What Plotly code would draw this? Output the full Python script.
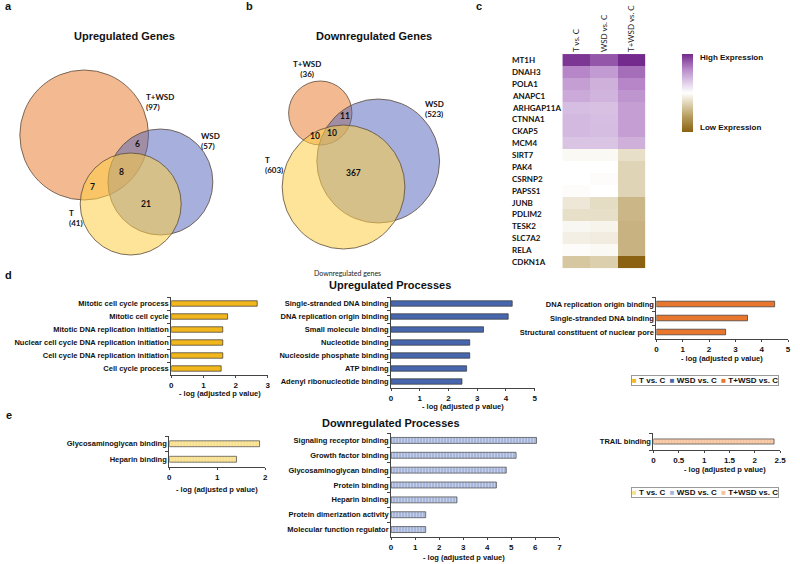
import plotly.graph_objects as go

W, H = 800, 564
def px(x): return x / W
def py(y): return 1 - y / H

# ---------------- data ----------------
# Venn a (upregulated genes)
venn_a_names = ["T+WSD", "WSD", "T"]
venn_a_totals = [97, 57, 41]
venn_a_counts = [6, 8, 7, 21]
# Venn b (downregulated genes)
venn_b_names = ["T+WSD", "WSD", "T"]
venn_b_totals = [36, 523, 603]
venn_b_counts = [11, 10, 10, 367]

# heatmap
heat_cols = ["T vs. C", "WSD vs. C", "T+WSD vs. C"]
heat_genes = ["MT1H", "DNAH3", "POLA1", "ANAPC1", "ARHGAP11A", "CTNNA1", "CKAP5", "MCM4",
              "SIRT7", "PAK4", "CSRNP2", "PAPSS1", "JUNB", "PDLIM2", "TESK2", "SLC7A2",
              "RELA", "CDKN1A"]
heat_t = [0.95, 0.62, 0.50, 0.45, 0.35, 0.38, 0.38, 0.32, -0.04, 0.0, 0.0, -0.02,
          -0.15, -0.20, -0.05, -0.10, -0.02, -0.35]
heat_wsd = [0.82, 0.52, 0.42, 0.40, 0.34, 0.35, 0.36, 0.32, -0.04, 0.0, -0.02, 0.0,
            -0.22, -0.20, -0.07, -0.12, -0.04, -0.30]
heat_twsd = [1.0, 0.72, 0.62, 0.55, 0.50, 0.50, 0.50, 0.42, -0.20, -0.27, -0.27, -0.27,
             -0.45, -0.45, -0.47, -0.47, -0.47, -1.0]

# upregulated processes
up_t_terms = ["Mitotic cell cycle process", "Mitotic cell cycle", "Mitotic DNA replication initiation",
              "Nuclear cell cycle DNA replication initiation", "Cell cycle DNA replication initiation",
              "Cell cycle process"]
up_t_vals = [2.67, 1.75, 1.6, 1.6, 1.6, 1.55]
up_wsd_terms = ["Single-stranded DNA binding", "DNA replication origin binding", "Small molecule binding",
                "Nucleotide binding", "Nucleoside phosphate binding", "ATP binding",
                "Adenyl ribonucleotide binding"]
up_wsd_vals = [4.22, 4.08, 3.22, 2.74, 2.74, 2.63, 2.47]
up_twsd_terms = ["DNA replication origin binding", "Single-stranded DNA binding",
                 "Structural constituent of nuclear pore"]
up_twsd_vals = [4.49, 3.46, 2.63]

# downregulated processes
dn_t_terms = ["Glycosaminoglycan binding", "Heparin binding"]
dn_t_vals = [1.88, 1.40]
dn_wsd_terms = ["Signaling receptor binding", "Growth factor binding", "Glycosaminoglycan binding",
                "Protein binding", "Heparin binding", "Protein dimerization activity",
                "Molecular function regulator"]
dn_wsd_vals = [6.05, 5.2, 4.79, 4.38, 2.74, 1.44, 1.44]
dn_twsd_terms = ["TRAIL binding"]
dn_twsd_vals = [2.38]

series_names = ["T vs. C", "WSD vs. C", "T+WSD vs. C"]

# ---------------- styles / geometry ----------------
ARIAL = "Liberation Sans, Arial, sans-serif"
CAL = "Lato, Open Sans, sans-serif"

venn_a_cx = [83, 160, 130]
venn_a_cy = [135, 182, 204]
venn_a_r = [65, 53, 51]
venn_b_cx = [321.5, 380, 345]
venn_b_cy = [113, 161, 187]
venn_b_r = [32, 62, 62]
venn_fill = ["rgba(233,130,55,0.55)", "rgba(80,98,185,0.5)", "rgba(253,205,70,0.55)"]

venn_a_name_pos = [(143, 102, "left"), (199, 140.5, "left"), (66, 218, "left")]
venn_a_count_pos = [(137, 144), (121, 172), (91, 187), (145, 204)]
venn_b_name_pos = [(308, 69, "center"), (425, 109, "left"), (264, 164.5, "left")]
venn_b_count_pos = [(346, 116), (316, 136), (333, 133), (355, 173)]

up_colors = ["#F2B71C", "#4766AE", "#E8762C"]
dn_colors = ["#F8DF8C", "#A7B6DA", "#F4C29C"]
dn_fg = ["#fdf3cf", "#e6ebf6", "#fbe5d3"]

fig = go.Figure()

layout = dict(
    width=W, height=H, margin=dict(l=0, r=0, t=0, b=0),
    paper_bgcolor="white", plot_bgcolor="rgba(0,0,0,0)", showlegend=False,
    xaxis=dict(domain=[0, px(450)], range=[0, 450], visible=False, fixedrange=True),
    yaxis=dict(domain=[py(280), py(30)], range=[280, 30], visible=False, fixedrange=True),
)
shapes = []
annotations = []

def note(x, y, text, font, xref="paper", yref="paper", xanchor="center", yanchor="middle", **kw):
    annotations.append(dict(xref=xref, yref=yref, x=x, y=y, text=text, showarrow=False,
                            xanchor=xanchor, yanchor=yanchor, font=font, **kw))

def add_venn(cx, cy, r):
    for i in range(3):
        shapes.append(dict(type="circle", xref="x", yref="y",
                           x0=cx[i] - r[i], x1=cx[i] + r[i], y0=cy[i] - r[i], y1=cy[i] + r[i],
                           fillcolor=venn_fill[i], line=dict(color="#5a4a3a", width=0.8)))

add_venn(venn_a_cx, venn_a_cy, venn_a_r)
add_venn(venn_b_cx, venn_b_cy, venn_b_r)

def venn_texts(names, totals, name_pos, counts, count_pos):
    for n, t, (x, y, al) in zip(names, totals, name_pos):
        note(x, y, f"{n}<br>({t})", dict(family=CAL, size=8, color="#111", weight="bold"),
             xref="x", yref="y", xanchor=al, align=al)
    for c, (x, y) in zip(counts, count_pos):
        note(x, y, str(c), dict(family=CAL, size=8.5, color="#111", weight="bold"), xref="x", yref="y")

venn_texts(venn_a_names, venn_a_totals, venn_a_name_pos, venn_a_counts, venn_a_count_pos)
venn_texts(venn_b_names, venn_b_totals, venn_b_name_pos, venn_b_counts, venn_b_count_pos)

note(px(349), py(273), "Downregulated genes", dict(family=CAL, size=7, color="#222"))

for txt, x, y in [("Upregulated Genes", 124, 36), ("Downregulated Genes", 376, 36),
                  ("Upregulated Processes", 392, 285), ("Downregulated Processes", 393, 423)]:
    note(px(x), py(y), txt, dict(family=ARIAL, size=11, color="#111", weight="bold"))
for txt, x, y in [("a", 7, 6), ("b", 250, 6), ("c", 482, 6), ("d", 7, 275), ("e", 7, 415)]:
    note(px(x), py(y), txt, dict(family=ARIAL, size=11, color="#111", weight="bold"))

# ---------------- heatmap ----------------
z = [[a, b, c] for a, b, c in zip(heat_t, heat_wsd, heat_twsd)]
colorscale = [[0.0, "#8a6212"], [0.2, "#b89c5e"], [0.35, "#dccfae"], [0.5, "#ffffff"],
              [0.65, "#dcc8e6"], [0.8, "#b98bcb"], [1.0, "#732a8c"]]
fig.add_trace(go.Heatmap(z=z, x=heat_cols, y=heat_genes, xaxis="x2", yaxis="y2",
                         colorscale=colorscale, zmin=-1, zmax=1, hoverinfo="skip",
                         colorbar=dict(thickness=11, thicknessmode="pixels", len=78, lenmode="pixels",
                                       x=px(687), xanchor="left", y=py(54), yanchor="top",
                                       outlinewidth=0, showticklabels=False, ticks="",
                                       xpad=0, ypad=0)))
layout["xaxis2"] = dict(domain=[px(566), px(650)], anchor="y2", side="top", tickangle=-90,
                        ticks="", showline=False, showgrid=False, zeroline=False,
                        tickfont=dict(family=CAL, size=8, color="#222"))
layout["yaxis2"] = dict(domain=[py(269), py(53)], anchor="x2", autorange="reversed",
                        showticklabels=False, ticks="", showline=False, showgrid=False, zeroline=False)
for g in heat_genes:
    note(px(513), g, g, dict(family=CAL, size=8, color="#111", weight="bold"), yref="y2", xanchor="left")
note(px(703), py(58), "High Expression", dict(family=ARIAL, size=8, color="#111", weight="bold"),
     xanchor="left")
note(px(703), py(127), "Low Expression", dict(family=ARIAL, size=8, color="#111", weight="bold"),
     xanchor="left")

# ---------------- bar panels ----------------
panels = [
    # terms, values, color, patterned, range, dtick, x0, x1, y0, y1, width, xlabel center
    (up_t_terms, up_t_vals, 0, False, [0, 3], 1, 171, 268.5, 297, 375, 0.42, (220, 393)),
    (up_wsd_terms, up_wsd_vals, 1, False, [0, 5], 1, 393, 538, 297, 388, 0.42, (466, 406)),
    (up_twsd_terms, up_twsd_vals, 2, False, [0, 5], 1, 661, 794, 297, 339, 0.4, (727, 358)),
    (dn_t_terms, dn_t_vals, 0, True, [0, 2], 1, 169, 266, 436, 467, 0.38, (217, 489)),
    (dn_wsd_terms, dn_wsd_vals, 1, True, [0, 7], 1, 393, 563, 433, 537, 0.4, (467, 557)),
    (dn_twsd_terms, dn_twsd_vals, 2, True, [0, 2.5], 0.5, 658, 786, 433, 450, 0.3, (730, 469)),
]
for i, (terms, vals, ci, pat, rng, dt, x0, x1, y0, y1, wd, lab) in enumerate(panels):
    k = i + 3
    if pat:
        marker = dict(color=dn_colors[ci], line=dict(color="#444", width=0.7),
                      pattern=dict(shape="|", fgcolor=dn_fg[ci], bgcolor=dn_colors[ci],
                                   size=3, solidity=0.35))
    else:
        marker = dict(color=up_colors[ci], line=dict(color="#333", width=0.7))
    fig.add_trace(go.Bar(x=vals, y=terms, orientation="h", width=wd, marker=marker,
                         xaxis=f"x{k}", yaxis=f"y{k}", name=series_names[ci], hoverinfo="x+y"))
    layout[f"xaxis{k}"] = dict(domain=[px(x0), px(x1)], anchor=f"y{k}", range=rng, dtick=dt,
                               showline=True, linecolor="#444", linewidth=1, ticks="outside",
                               ticklen=2, tickcolor="#444", showgrid=False, zeroline=False,
                               tickfont=dict(family=ARIAL, size=8, color="#111", weight="bold"))
    layout[f"yaxis{k}"] = dict(domain=[py(y1), py(y0)], anchor=f"x{k}", autorange="reversed",
                               showline=True, linecolor="#444", linewidth=1, ticks="outside",
                               tickson="boundaries", ticklen=3, tickcolor="#444", showgrid=False,
                               tickfont=dict(family=ARIAL, size=7.5, color="#111", weight="bold"))
    note(px(lab[0]), py(lab[1]), "- log (adjusted p value)",
         dict(family=ARIAL, size=7.5, color="#111", weight="bold"))

# legends
def legend_text(colors):
    parts = [f"<span style='color:{c}'>■</span> {n}" for c, n in zip(colors, series_names)]
    return "&nbsp;&nbsp;".join(parts)

for colors, y in [(up_colors, 380), (dn_colors, 492)]:
    note(px(710), py(y), legend_text(colors), dict(family=ARIAL, size=8, color="#111", weight="bold"),
         bordercolor="#999", borderwidth=1, borderpad=0)

layout["shapes"] = shapes
layout["annotations"] = annotations
fig.update_layout(**layout)
fig.write_html("out.html", config={"displayModeBar": False},
               post_script="document.body.style.margin='0px'; document.body.style.overflow='hidden';")
